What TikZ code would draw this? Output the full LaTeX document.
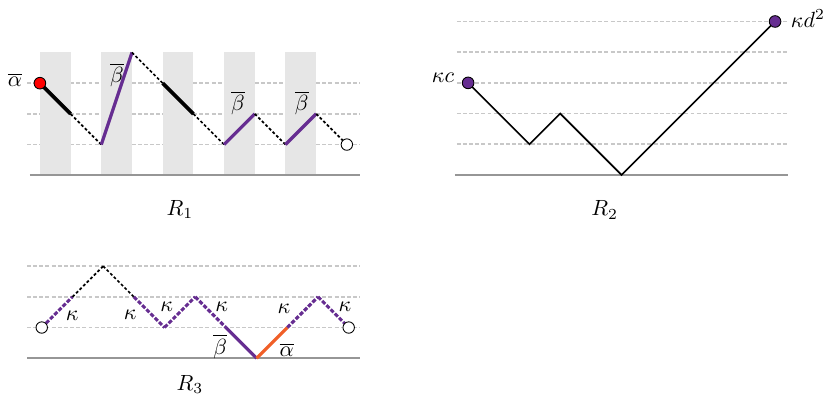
\documentclass[tikz,border=0pt]{standalone}
\usepackage{amsmath,amssymb}
\usepackage{xcolor}
\usetikzlibrary{positioning}
\definecolor{pathpurple}{RGB}{102,45,145}
\definecolor{pathorange}{RGB}{240,95,40}
\definecolor{bargray}{RGB}{230,230,230}
\definecolor{levelgray}{RGB}{200,200,200}
\definecolor{basegray}{RGB}{150,150,150}
\tikzset{
  levelline/.style={levelgray,line width=0.7pt,dash pattern=on 1.8pt off 1pt},
  baseline/.style={basegray,line width=0.9pt},
  heavyseg/.style={black,line width=1.7pt},
  dotseg/.style={black,line width=0.8pt,dash pattern=on 1.3pt off 1pt},
  purpseg/.style={pathpurple,line width=1.5pt},
  kapseg/.style={pathpurple,line width=1.4pt,dash pattern=on 1.9pt off 0.8pt},
  orangeseg/.style={pathorange,line width=1.5pt},
  plainseg/.style={black,line width=0.75pt},
  enddot/.style={draw=black,line width=0.4pt,fill=#1},
}

\begin{document}
\begin{tikzpicture}[x=0.491cm,y=0.491cm]
  \useasboundingbox (0,0) rectangle (27.04,13.19);

  % R_1
  \begin{scope}[shift={(1.30,7.48)}]
    \foreach \l in {1,2,3} \draw[levelline] (-0.42,\l) -- (10.42,\l);
    \foreach \c in {0,2,...,8} \fill[bargray] (\c,0) rectangle (\c+1,4);
    \draw[baseline] (-0.33,0) -- (10.42,0);

    \foreach \x/\y [count=\i from 0] in {0/3,1/2,2/1,3/4,4/3,5/2,6/1,7/2,8/1,9/2,10/1}
      \coordinate (a\i) at (\x,\y);

    \draw[heavyseg] (a0) -- (a1);
    \draw[dotseg] (a1) -- (a2);
    \draw[purpseg] (a2) -- (a3);
    \draw[dotseg] (a3) -- (a4);
    \draw[heavyseg] (a4) -- (a5);
    \draw[dotseg] (a5) -- (a6);
    \draw[purpseg] (a6) -- (a7);
    \draw[dotseg] (a7) -- (a8);
    \draw[purpseg] (a8) -- (a9);
    \draw[dotseg] (a9) -- (a10);

    \filldraw[enddot=red] (a0) circle (2.65pt);
    \filldraw[enddot=white] (a10) circle (2.6pt);

    \node (alphaA) at (-0.81,3.11) {$\overline{\alpha}$};
    \node (betaA) at (2.51,3.27) {$\overline{\beta}$};
    \node (betaB) at (6.45,2.36) {$\overline{\beta}$};
    \node (betaC) at (8.53,2.36) {$\overline{\beta}$};
    \node (nameA) at (4.56,-1.12) {$R_1$};
  \end{scope}

  % R_2
  \begin{scope}[shift={(15.25,7.49)}]
    \foreach \l in {1,...,5} \draw[levelline] (-0.37,\l) -- (10.42,\l);
    \draw[baseline] (-0.43,0) -- (10.42,0);

    \coordinate (b0) at (0,3);
    \coordinate (b1) at (2,1);
    \coordinate (b2) at (3,2);
    \coordinate (b3) at (5,0);
    \coordinate (b4) at (10,5);

    \draw[plainseg] (b0) -- (b1) -- (b2) -- (b3) -- (b4);

    \filldraw[enddot=pathpurple] (b0) circle (2.65pt);
    \filldraw[enddot=pathpurple] (b4) circle (2.65pt);

    \node (kapc) at (-0.82,3.16) {$\kappa c$};
    \node (kapd) at (11.07,5.11) {$\kappa d^2$};
    \node (nameB) at (4.45,-1.14) {$R_2$};
  \end{scope}

  % R_3
  \begin{scope}[shift={(1.36,1.52)}]
    \foreach \l in {1,2,3} \draw[levelline] (-0.48,\l) -- (10.37,\l);
    \draw[baseline] (-0.48,0) -- (10.37,0);

    \foreach \x/\y [count=\i from 0] in {0/1,1/2,2/3,3/2,4/1,5/2,6/1,7/0,8/1,9/2,10/1}
      \coordinate (c\i) at (\x,\y);

    \draw[kapseg] (c0) -- (c1);
    \draw[dotseg] (c1) -- (c2);
    \draw[dotseg] (c2) -- (c3);
    \draw[kapseg] (c3) -- (c4);
    \draw[kapseg] (c4) -- (c5);
    \draw[kapseg] (c5) -- (c6);
    \draw[purpseg] (c6) -- (c7);
    \draw[orangeseg] (c7) -- (c8);
    \draw[kapseg] (c8) -- (c9);
    \draw[kapseg] (c9) -- (c10);

    \filldraw[enddot=white] (c0) circle (2.6pt);
    \filldraw[enddot=white] (c10) circle (2.6pt);

    \node (kapA) at (0.99,1.38) {$\kappa$};
    \node (kapB) at (2.88,1.41) {$\kappa$};
    \node (kapC) at (4.07,1.69) {$\kappa$};
    \node (kapD) at (5.86,1.69) {$\kappa$};
    \node (kapE) at (7.89,1.61) {$\kappa$};
    \node (kapF) at (9.88,1.68) {$\kappa$};
    \node (betaD) at (5.81,0.38) {$\overline{\beta}$};
    \node (alphaB) at (7.98,0.28) {$\overline{\alpha}$};
    \node (nameC) at (4.83,-0.86) {$R_3$};
  \end{scope}
\end{tikzpicture}
\end{document}
